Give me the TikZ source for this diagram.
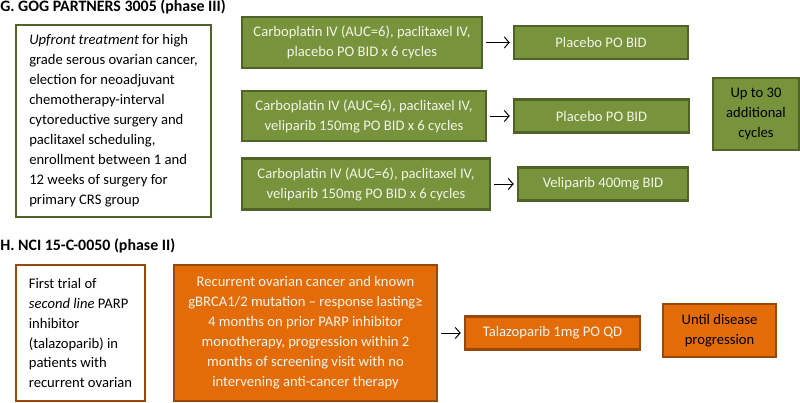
\documentclass[tikz,border=0pt]{standalone}
\usepackage{fontspec}
\setmainfont{Carlito}
\usetikzlibrary{arrows.meta}
\definecolor{armgreen}{HTML}{77933C}
\definecolor{armgreenline}{HTML}{4F6228}
\definecolor{armorange}{HTML}{E36C09}
\definecolor{armorangeline}{HTML}{984807}
\definecolor{armtext}{HTML}{F4F4EA}

\begin{document}
\begin{tikzpicture}[x=0.025cm, y=-0.025cm,
	every node/.style={font=\fontsize{10.4}{14.2}\selectfont, inner sep=0pt},
	title/.style={anchor=west, font=\fontsize{11.3}{14}\selectfont\bfseries},
	greenbox/.style={draw=armgreenline, line width=2pt, fill=armgreen, text=armtext, align=center},
	orangebox/.style={draw=armorangeline, line width=2pt, fill=armorange, text=armtext, align=center},
	infogreen/.style={draw=armgreenline, line width=2pt, fill=white, align=left},
	infoorange/.style={draw=armorangeline, line width=2pt, fill=white, align=left},
	arm/.style={-{Straight Barb[length=3.5pt,width=8pt]}, line width=0.7pt, shorten <=2pt, shorten >=2pt},]

\useasboundingbox (0,0) rectangle (800,402);

\node[title] (titleG) at (0,7) {G. GOG PARTNERS 3005 (phase III)};
\node[infogreen, minimum width=4.875cm, minimum height=4.8cm] (popG) at (113.5,121)
	{\textit{Upfront treatment} for high\\ grade serous ovarian cancer,\\ election for neoadjuvant\\ chemotherapy-interval\\ cytoreductive surgery and\\ paclitaxel scheduling,\\ enrollment between 1 and\\ 12 weeks of surgery for\\ primary CRS group};

\node[greenbox, minimum width=6cm, minimum height=1.275cm] (chemoA) at (362,42.5) {Carboplatin IV (AUC=6), paclitaxel IV,\\ placebo PO BID x 6 cycles};
\node[greenbox, minimum width=6.1cm, minimum height=1.25cm] (chemoB) at (364,116) {Carboplatin IV (AUC=6), paclitaxel IV,\\ veliparib 150mg PO BID x 6 cycles};
\node[greenbox, minimum width=6.2cm, minimum height=1.275cm] (chemoC) at (366,184) {Carboplatin IV (AUC=6), paclitaxel IV,\\ veliparib 150mg PO BID x 6 cycles};

\node[greenbox, minimum width=4.35cm, minimum height=0.825cm] (maintA) at (601,42.5) {Placebo PO BID};
\node[greenbox, minimum width=4.375cm, minimum height=0.825cm] (maintB) at (601.5,116) {Placebo PO BID};
\node[greenbox, minimum width=4.25cm, minimum height=0.825cm] (maintC) at (603,184) {Veliparib 400mg BID};

\node[greenbox, text=black, minimum width=2.15cm, minimum height=1.8cm] (cycles) at (756,114) {Up to 30\\ additional\\ cycles};

\draw[arm] (chemoA) -- (maintA);
\draw[arm] (chemoB) -- (maintB);
\draw[arm] (chemoC) -- (maintC);

\node[title] (titleH) at (0,246) {H. NCI 15-C-0050 (phase II)};
\node[infoorange, minimum width=3.225cm, minimum height=3.4cm] (popH) at (80.5,333)
	{First trial of\\ \textit{second line} PARP\\ inhibitor\\ (talazoparib) in\\ patients with\\ recurrent ovarian};
\node[orangebox, minimum width=6.575cm, minimum height=3.4cm] (elig) at (305.5,333)
	{Recurrent ovarian cancer and known\\ gBRCA1/2 mutation – response lasting≥\\ 4 months on prior PARP inhibitor\\ monotherapy, progression within 2\\ months of screening visit with no\\ intervening anti-cancer therapy};
\node[orangebox, minimum width=4.375cm, minimum height=0.825cm] (tala) at (552.5,333) {Talazoparib 1mg PO QD};
\node[orangebox, text=black, minimum width=2.825cm, minimum height=1.325cm] (until) at (719.5,330.5) {Until disease\\ progression};

\draw[arm] (elig) -- (tala);
\end{tikzpicture}
\end{document}
